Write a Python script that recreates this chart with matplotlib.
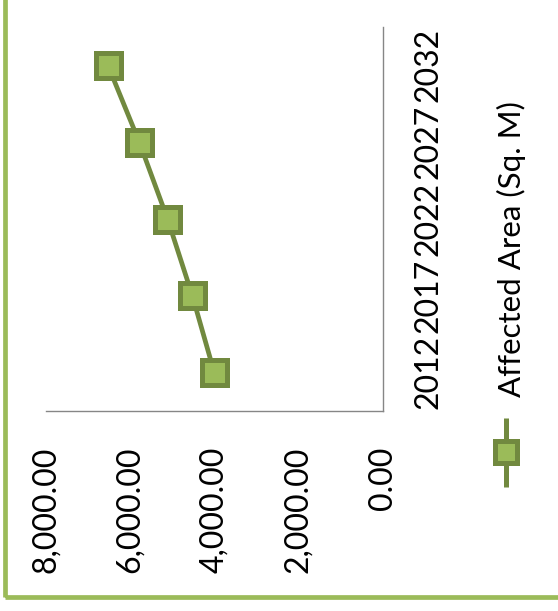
import matplotlib
matplotlib.use("Agg")
import matplotlib.pyplot as plt
from matplotlib.lines import Line2D
from matplotlib.patches import Rectangle
from matplotlib.ticker import FuncFormatter

# Data
years = ["2012", "2017", "2022", "2027", "2032"]
affected_area = [4000, 4520, 5110, 5780, 6525]
value_ticks = [0, 2000, 4000, 6000, 8000]
series_name = "Affected Area (Sq. M)"

LINE_COLOR = "#71893F"
FILL_COLOR = "#9BBB59"
AXIS_COLOR = "#868686"
FONT = "Lato"
FS = 23

W, H, DPI = 558, 611, 100
fig = plt.figure(figsize=(W / DPI, H / DPI), dpi=DPI)
fig.patch.set_facecolor("white")

def px(x0, y_top, x1, y_bottom):
    """Axes rectangle from pixel box (origin at the top-left)."""
    return [x0 / W, 1 - y_bottom / H, (x1 - x0) / W, (y_bottom - y_top) / H]

# The chart is laid out turned a quarter turn: values run right-to-left,
# categories bottom-to-top.
ax = fig.add_axes(px(45.7, 26.7, 382.7, 410.7))
ypos = list(range(len(years)))
ax.plot(affected_area, ypos, color=LINE_COLOR, lw=3.4, marker="s",
        ms=18, mfc=FILL_COLOR, mec=LINE_COLOR, mew=3.6,
        solid_joinstyle="round", zorder=3)

ax.set_xlim(8000, 0)
ax.set_ylim(-0.5, len(years) - 0.5)

ax.set_xticks(value_ticks)
ax.xaxis.set_major_formatter(FuncFormatter(lambda v, p: f"{v:,.2f}"))
ax.set_yticks(ypos)
ax.set_yticklabels(years)
ax.yaxis.tick_right()

for lab in ax.get_xticklabels():
    lab.set_rotation(90)
    lab.set_fontfamily(FONT)
    lab.set_fontsize(FS)
    lab.set_ha("center")
    lab.set_va("top")
for lab in ax.get_yticklabels():
    lab.set_rotation(90)
    lab.set_fontfamily(FONT)
    lab.set_fontsize(FS)
    lab.set_ha("left")
    lab.set_va("center")

ax.tick_params(axis="x", length=0, pad=26)
ax.tick_params(axis="y", length=0, pad=22)

for s in ("left", "top"):
    ax.spines[s].set_visible(False)
for s in ("right", "bottom"):
    ax.spines[s].set_color(AXIS_COLOR)
    ax.spines[s].set_linewidth(1.0)

# Legend key and label
lx = 506 / W
fig.add_artist(Line2D([lx, lx], [1 - 417.7 / H, 1 - 487 / H], color=LINE_COLOR,
                      lw=3.6, solid_capstyle="butt"))
fig.add_artist(Line2D([lx], [1 - 452 / H], marker="s", ms=16, mfc=FILL_COLOR,
                      mec=LINE_COLOR, mew=3.6, lw=0))
fig.text(511 / W, 1 - 397 / H, series_name, rotation=90, ha="center",
         va="bottom", fontfamily=FONT, fontsize=22.5)

# Chart border
fig.add_artist(Rectangle((5 / W, 1 - 597 / H), 1.2, 1.2, fill=False,
                         edgecolor=FILL_COLOR, lw=3.4, clip_on=False))

fig.savefig("out.png", dpi=DPI, facecolor="white")
